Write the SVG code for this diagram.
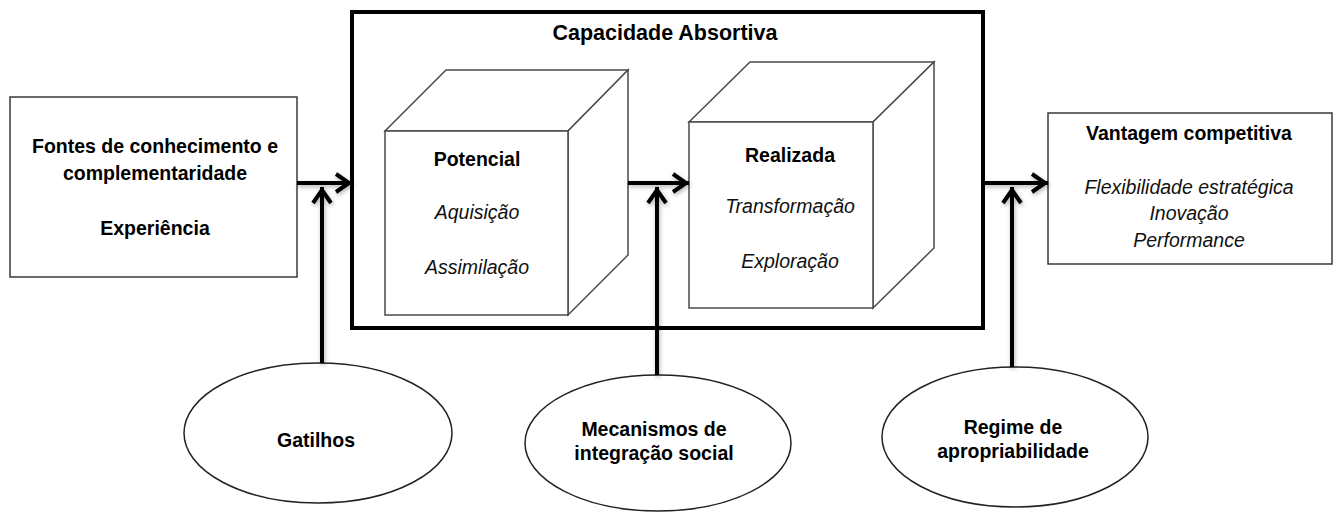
<svg xmlns="http://www.w3.org/2000/svg" width="1338" height="513" viewBox="0 0 1338 513">
<style>
  .box { fill: #fff; stroke: #3a3a3a; stroke-width: 1.5; }
  .big { fill: #fff; stroke: #000; stroke-width: 4; }
  .cube { fill: #fff; stroke: #4a4a4a; stroke-width: 1.5; stroke-linejoin: miter; }
  .ell { fill: #fff; stroke: #222; stroke-width: 1.5; }
  .conn { fill: none; stroke: #000; stroke-width: 4; }
  text { font-family: "Liberation Sans", Arial, sans-serif; fill: #000; text-anchor: middle; }
  .b { font-weight: bold; font-size: 19.5px; }
  .t { font-weight: bold; font-size: 21.5px; }
  .i { font-style: italic; font-size: 19.5px; fill: #111; }
</style>
<defs>
  <marker id="chev" viewBox="-18 -12 20 24" markerWidth="20" markerHeight="24" refX="0" refY="0" orient="auto" markerUnits="userSpaceOnUse">
    <path d="M-16,-9 L-3,0 L-16,9" fill="none" stroke="#000" stroke-width="4"/>
  </marker>
  <filter id="sh" x="-20%" y="-20%" width="140%" height="140%">
    <feDropShadow dx="1" dy="2" stdDeviation="2" flood-color="#000" flood-opacity="0.3"/>
  </filter>
</defs>

<g id="fontes">
  <rect class="box" x="10" y="97" width="287" height="180"/>
  <text class="b" x="155" y="153">Fontes de conhecimento e</text>
  <text class="b" x="155" y="180">complementaridade</text>
  <text class="b" x="155" y="235">Experiência</text>
</g>

<g id="capacidade">
  <rect class="big" x="352" y="12" width="631" height="316"/>
  <text class="t" x="665" y="40">Capacidade Absortiva</text>
</g>

<g id="potencial">
  <polygon class="cube" points="385,131 446,70 628,70 568,131"/>
  <polygon class="cube" points="568,131 628,70 628,255 568,315"/>
  <rect class="cube" x="385" y="131" width="183" height="184"/>
  <text class="b" x="477" y="166">Potencial</text>
  <text class="i" x="477" y="219">Aquisição</text>
  <text class="i" x="477" y="274">Assimilação</text>
</g>

<g id="realizada">
  <polygon class="cube" points="689,122 750,62 934,62 873,122"/>
  <polygon class="cube" points="873,122 934,62 934,248 873,308"/>
  <rect class="cube" x="689" y="122" width="184" height="186"/>
  <text class="b" x="790" y="162">Realizada</text>
  <text class="i" x="790" y="213">Transformação</text>
  <text class="i" x="790" y="268">Exploração</text>
</g>

<g id="vantagem">
  <rect class="box" x="1048" y="113" width="284" height="151"/>
  <text class="b" x="1189" y="140">Vantagem competitiva</text>
  <text class="i" x="1189" y="194">Flexibilidade estratégica</text>
  <text class="i" x="1189" y="220">Inovação</text>
  <text class="i" x="1189" y="247">Performance</text>
</g>

<g id="gatilhos">
  <ellipse class="ell" cx="318" cy="433" rx="134" ry="70"/>
  <text class="b" x="316" y="447">Gatilhos</text>
</g>

<g id="mecanismos">
  <ellipse class="ell" cx="658" cy="443" rx="133" ry="68"/>
  <text class="b" x="654" y="436">Mecanismos de</text>
  <text class="b" x="654" y="460">integração social</text>
</g>

<g id="regime">
  <ellipse class="ell" cx="1015" cy="437" rx="133" ry="70"/>
  <text class="b" x="1013" y="434">Regime de</text>
  <text class="b" x="1013" y="458">apropriabilidade</text>
</g>

<g id="connectors" filter="url(#sh)">
  <line class="conn" x1="297" y1="183" x2="352" y2="183" marker-end="url(#chev)"/>
  <line class="conn" x1="322" y1="363" x2="322" y2="187" marker-end="url(#chev)"/>
  <line class="conn" x1="628" y1="183" x2="689" y2="183" marker-end="url(#chev)"/>
  <line class="conn" x1="657" y1="375" x2="657" y2="187" marker-end="url(#chev)"/>
  <line class="conn" x1="983" y1="183" x2="1048" y2="183" marker-end="url(#chev)"/>
  <line class="conn" x1="1012" y1="367" x2="1012" y2="187" marker-end="url(#chev)"/>
</g>
</svg>
